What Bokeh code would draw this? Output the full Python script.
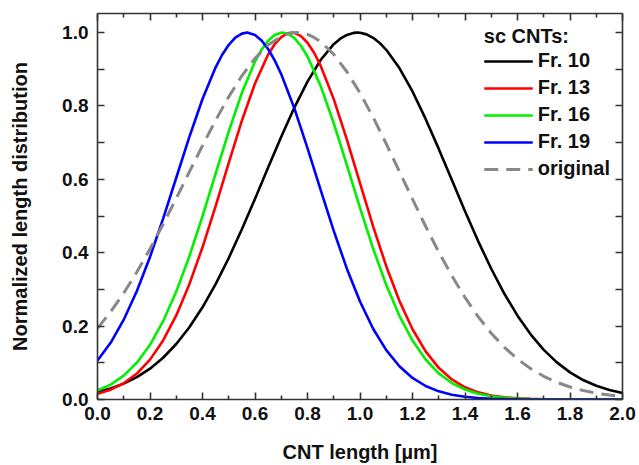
from bokeh.plotting import figure
from bokeh.models import LinearAxis, FixedTicker, PrintfTickFormatter, Range1d
from bokeh.embed import file_html
from bokeh.resources import INLINE

# ---- data ----
length_um = [0.00, 0.05, 0.10, 0.15, 0.20, 0.25, 0.30, 0.35, 0.40, 0.45,
             0.50, 0.55, 0.60, 0.65, 0.70, 0.75, 0.80, 0.85, 0.90, 0.95,
             1.00, 1.05, 1.10, 1.15, 1.20, 1.25, 1.30, 1.35, 1.40, 1.45,
             1.50, 1.55, 1.60, 1.65, 1.70, 1.75, 1.80, 1.85, 1.90, 1.95, 2.00]

fr10 = [0.0205, 0.0300, 0.0432, 0.0608, 0.0840, 0.1138, 0.1512, 0.1969, 0.2513, 0.3144,
        0.3857, 0.4638, 0.5468, 0.6321, 0.7163, 0.7957, 0.8665, 0.9252, 0.9684, 0.9937,
        0.9996, 0.9858, 0.9531, 0.9034, 0.8395, 0.7647, 0.6830, 0.5979, 0.5132, 0.4317,
        0.3563, 0.2881, 0.2284, 0.1776, 0.1353, 0.1011, 0.0740, 0.0531, 0.0374, 0.0258, 0.0175]
fr10_peak_x = [0.925, 0.975, 0.99, 1.025, 1.075]
fr10_peak_y = [0.9834, 0.9991, 1.0, 0.9951, 0.9717]

fr13 = [0.0155, 0.0267, 0.0443, 0.0707, 0.1087, 0.1609, 0.2292, 0.3143, 0.4148, 0.5273,
        0.6451, 0.7598, 0.8614, 0.9402, 0.9879, 0.9992, 0.9723, 0.9098, 0.8187, 0.7085,
        0.5897, 0.4720, 0.3633, 0.2689, 0.1914, 0.1311, 0.0863, 0.0547, 0.0333, 0.0195,
        0.0110, 0.0059, 0.0031, 0.0016, 0.0008, 0.0004, 0.0002, 0.0001, 0.0, 0.0, 0.0]
fr13_peak_x = [0.675, 0.725, 0.74, 0.775, 0.825]
fr13_peak_y = [0.9683, 0.9983, 1.0, 0.9905, 0.9451]

fr16 = [0.0245, 0.0407, 0.0651, 0.1003, 0.1491, 0.2133, 0.2941, 0.3905, 0.4995, 0.6155,
        0.7308, 0.8359, 0.9210, 0.9777, 0.9998, 0.9850, 0.9349, 0.8548, 0.7529, 0.6390,
        0.5224, 0.4114, 0.3121, 0.2282, 0.1606, 0.1090, 0.0712, 0.0448, 0.0272, 0.0159,
        0.0089, 0.0048, 0.0025, 0.0013, 0.0006, 0.0003, 0.0001, 0.0001, 0.0, 0.0, 0.0]
fr16_peak_x = [0.625, 0.675, 0.705, 0.725, 0.775]
fr16_peak_y = [0.9533, 0.9933, 1.0, 0.9970, 0.9641]

fr19 = [0.1063, 0.1545, 0.2175, 0.2958, 0.3885, 0.4930, 0.6044, 0.7159, 0.8190, 0.9054,
        0.9667, 0.9972, 0.9936, 0.9553, 0.8863, 0.7934, 0.6853, 0.5712, 0.4594, 0.3565,
        0.2670, 0.1929, 0.1345, 0.0905, 0.0587, 0.0368, 0.0222, 0.0130, 0.0073, 0.0040,
        0.0021, 0.0010, 0.0005, 0.0002, 0.0001, 0.0, 0.0, 0.0, 0.0, 0.0, 0.0]
fr19_peak_x = [0.475, 0.525, 0.57, 0.625, 0.675]
fr19_peak_y = [0.9396, 0.9861, 1.0, 0.9786, 0.9243]

original = [0.1938, 0.2389, 0.2901, 0.3474, 0.4103, 0.4777, 0.5482, 0.6203, 0.6919, 0.7611,
            0.8253, 0.8822, 0.9298, 0.9662, 0.9898, 0.9997, 0.9950, 0.9750, 0.9406, 0.8933,
            0.8353, 0.7689, 0.6968, 0.6217, 0.5461, 0.4722, 0.4020, 0.3370, 0.2780, 0.2259,
            0.1806, 0.1422, 0.1103, 0.0841, 0.0632, 0.0468, 0.0340, 0.0244, 0.0172, 0.0120, 0.0082]
original_peak_x = [0.725, 0.76, 0.775, 0.825]
original_peak_y = [0.9965, 1.0, 0.9993, 0.9869]

series_names = ["Fr. 10", "Fr. 13", "Fr. 16", "Fr. 19", "original"]
series_colors = ["#000000", "#ff0000", "#00f000", "#0000ff", "#888888"]

x_major = [0.0, 0.2, 0.4, 0.6, 0.8, 1.0, 1.2, 1.4, 1.6, 1.8, 2.0]
x_minor = [0.1, 0.3, 0.5, 0.7, 0.9, 1.1, 1.3, 1.5, 1.7, 1.9]
y_major = [0.0, 0.2, 0.4, 0.6, 0.8, 1.0]
y_minor = [0.1, 0.3, 0.5, 0.7, 0.9]

FONT = "Liberation Sans"
AX = "#333333"
TXT = "#111111"

p = figure(width=639, height=465, output_backend="svg", toolbar_location=None,
           x_range=Range1d(0, 2.0), y_range=Range1d(0, 1.052),
           min_border_left=97, min_border_right=17, min_border_top=13, min_border_bottom=66)
p.outline_line_color = None
p.grid.visible = False
p.background_fill_color = "white"

bottom = p.below[0]
left = p.left[0]

series = [(fr10, fr10_peak_x, fr10_peak_y), (fr13, fr13_peak_x, fr13_peak_y),
          (fr16, fr16_peak_x, fr16_peak_y), (fr19, fr19_peak_x, fr19_peak_y),
          (original, original_peak_x, original_peak_y)]
for (ys, px, py), name, col in zip(series, series_names, series_colors):
    pts = sorted(dict(list(zip(length_um, ys)) + list(zip(px, py))).items())
    xs = [a for a, b in pts]
    yv = [b for a, b in pts]
    if name == "original":
        p.line(xs, yv, line_color=col, line_width=3, line_dash="14 8",
               legend_label=name)
    else:
        p.line(xs, yv, line_color=col, line_width=2.6, legend_label=name)

# mirrored axes without labels
top = LinearAxis()
right = LinearAxis()
p.add_layout(top, "above")
p.add_layout(right, "right")

for ax in [bottom, top]:
    ax.ticker = FixedTicker(ticks=x_major, minor_ticks=x_minor)
    ax.major_tick_in = 7
    ax.major_tick_out = 0
    ax.minor_tick_in = 4
    ax.minor_tick_out = 0
for ax in [left, right]:
    ax.ticker = FixedTicker(ticks=y_major, minor_ticks=y_minor)
    ax.major_tick_in = 7
    ax.major_tick_out = 0
    ax.minor_tick_in = 7
    ax.minor_tick_out = 0

for ax in [bottom, top, left, right]:
    ax.axis_line_color = AX
    ax.axis_line_width = 1.6
    ax.major_tick_line_color = AX
    ax.major_tick_line_width = 1.6
    ax.minor_tick_line_color = AX
    ax.minor_tick_line_width = 1.6
    ax.formatter = PrintfTickFormatter(format="%.1f")
    ax.major_label_text_font = FONT
    ax.major_label_text_font_style = "bold"
    ax.major_label_text_font_size = "19px"
    ax.major_label_text_color = TXT

for ax in [top, right]:
    ax.major_label_text_color = None
    ax.major_label_text_font_size = "1px"
    ax.major_label_standoff = 0

bottom.axis_label = "CNT length [µm]"
bottom.major_label_standoff = 7
bottom.axis_label_standoff = 18
left.axis_label = "Normalized length distribution"
left.major_label_standoff = 9
left.axis_label_standoff = 28
for ax in [bottom, left]:
    ax.axis_label_text_font = FONT
    ax.axis_label_text_font_style = "bold"
    ax.axis_label_text_font_size = "20px"
    ax.axis_label_text_color = TXT

lg = p.legend[0]
lg.title = "sc CNTs:"
lg.location = "top_right"
lg.margin = 12
lg.padding = 9
lg.border_line_color = None
lg.background_fill_alpha = 0
lg.title_text_font = FONT
lg.title_text_font_style = "bold"
lg.title_text_font_size = "20px"
lg.title_text_color = TXT
lg.title_standoff = 1
lg.label_text_font = FONT
lg.label_text_font_style = "bold"
lg.label_text_font_size = "20px"
lg.label_text_color = TXT
lg.glyph_width = 49
lg.glyph_height = 20
lg.label_height = 20
lg.label_standoff = 5
lg.spacing = 4

open("out.html", "w").write(file_html(p, INLINE))
